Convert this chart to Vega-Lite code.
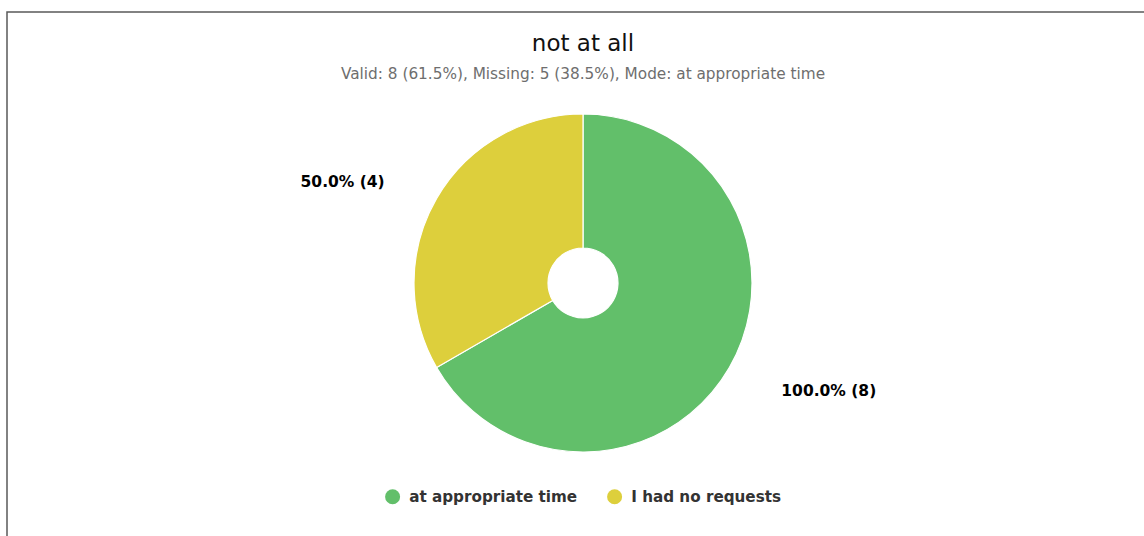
{
  "$schema": "https://vega.github.io/schema/vega-lite/v6.json",
  "autosize": {"type": "none"},
  "padding": {"left": 7, "top": 12, "right": 0, "bottom": 0},
  "width": 1152,
  "height": 542,
  "background": "white",
  "view": {"stroke": "#5a5a5a", "strokeWidth": 1.5, "fill": "white"},
  "config": {
    "font": "DejaVu Sans"
  },
  "title": {
    "text": "not at all",
    "subtitle": "Valid: 8 (61.5%), Missing: 5 (38.5%), Mode: at appropriate time",
    "anchor": "middle",
    "frame": "group",
    "offset": -70,
    "fontSize": 23,
    "fontWeight": "normal",
    "color": "#111111",
    "subtitleFontSize": 15.3,
    "subtitleColor": "#6e6e6e",
    "subtitlePadding": 11
  },
  "data": {
    "values": [
      {"category": "at appropriate time", "count": 8, "label": "100.0% (8)"},
      {"category": "I had no requests", "count": 4, "label": "50.0% (4)"}
    ]
  },
  "encoding": {
    "theta": {"field": "count", "type": "quantitative", "stack": true},
    "order": {"field": "count", "type": "quantitative", "sort": "descending"},
    "color": {
      "field": "category",
      "type": "nominal",
      "sort": ["at appropriate time", "I had no requests"],
      "scale": {"domain": ["at appropriate time", "I had no requests"], "range": ["#62bf6a", "#ddcf3c"]},
      "legend": {
        "title": null,
        "orient": "none",
        "direction": "horizontal",
        "legendX": 378,
        "legendY": 477,
        "symbolType": "circle",
        "symbolSize": 225,
        "symbolOpacity": 1,
        "symbolStrokeWidth": 0,
        "labelFont": "DejaVu Sans",
        "labelFontSize": 15.2,
        "labelFontWeight": "bold",
        "labelColor": "#333333",
        "labelLimit": 400,
        "columnPadding": 29,
        "labelOffset": 9
      }
    }
  },
  "layer": [
    {
      "mark": {"type": "arc", "outerRadius": 169, "innerRadius": 35, "stroke": "white", "strokeWidth": 1.2}
    },
    {
      "mark": {
        "type": "text",
        "radius": 229,
        "fontSize": 15.5,
        "fontWeight": "bold",
        "color": "#000000",
        "dy": {"expr": "datum.category === 'I had no requests' ? 13 : -7"},
        "align": {"expr": "datum.category === 'I had no requests' ? 'right' : 'left'"}
      },
      "encoding": {
        "text": {"field": "label", "type": "nominal"},
        "color": {"value": "#000000"}
      }
    }
  ]
}
